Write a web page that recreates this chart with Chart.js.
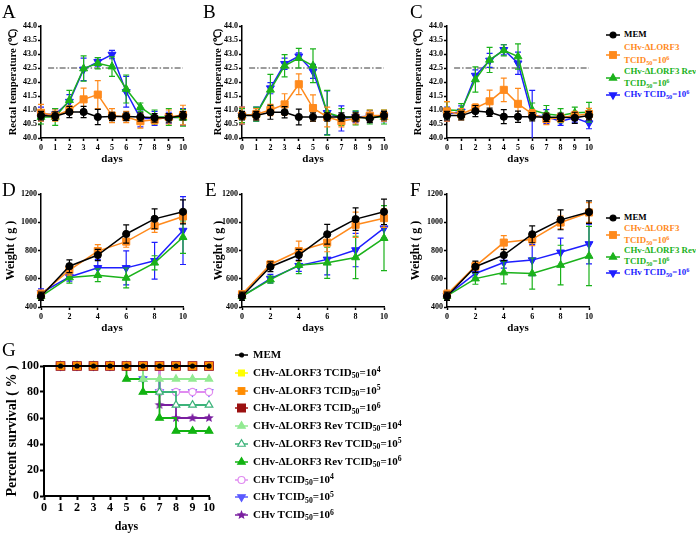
<!DOCTYPE html>
<html><head><meta charset="utf-8">
<script src="https://cdn.jsdelivr.net/npm/chart.js@4.4.0/dist/chart.umd.min.js"></script>
<style>
html,body{margin:0;padding:0;background:#fff;overflow:hidden;}
#wrap{position:relative;width:696px;height:533px;font-family:"Liberation Serif","Times New Roman",serif;}
#wrap canvas{position:absolute;}
.letter{position:absolute;font-size:19px;line-height:1;color:#000;}
.lt{position:absolute;font-weight:bold;white-space:nowrap;line-height:1;}
.sb{font-size:0.7em;position:relative;top:0.3em;}
.sp{font-size:0.7em;position:relative;top:-0.45em;}
</style></head><body><div id="wrap"></div>
<script>
// ---------- data ----------
const tempDays = [0,1,2,3,4,5,6,7,8,9,10];
const weightDays = [0,2,4,6,8,10];
const survDays = [0,1,2,3,4,5,6,7,8,9,10];

const A_mem = [40.80,40.78,40.93,40.93,40.75,40.77,40.77,40.75,40.72,40.72,40.80];
const A_memErr = [0.15,0.15,0.2,0.2,0.27,0.15,0.15,0.15,0.15,0.15,0.15];
const A_del = [40.90,40.80,41.00,41.38,41.55,40.80,40.75,40.60,40.65,40.75,40.82];
const A_delErr = [0.3,0.2,0.15,0.4,0.5,0.25,0.2,0.25,0.15,0.25,0.35];
const A_rev = [40.75,40.75,41.35,42.48,42.67,42.55,41.75,41.10,40.75,40.75,40.72];
const A_revErr = [0.25,0.3,0.35,0.45,0.2,0.35,0.5,0.15,0.25,0.3,0.3];
const A_chv = [40.85,40.85,41.30,42.45,42.72,42.98,41.65,40.70,40.70,40.72,40.75];
const A_chvErr = [0.25,0.2,0.25,0.4,0.15,0.15,0.55,0.3,0.25,0.2,0.3];

const B_mem = [40.80,40.80,40.92,40.92,40.75,40.75,40.75,40.75,40.75,40.70,40.80];
const B_memErr = [0.15,0.15,0.25,0.2,0.28,0.15,0.15,0.15,0.15,0.15,0.15];
const B_del = [40.80,40.85,41.00,41.20,41.92,41.07,40.75,40.60,40.70,40.80,40.80];
const B_delErr = [0.3,0.2,0.2,0.38,0.37,0.47,0.35,0.2,0.2,0.2,0.2];
const B_rev = [40.80,40.85,41.72,42.58,42.85,42.58,40.90,40.75,40.72,40.75,40.75];
const B_revErr = [0.25,0.25,0.55,0.4,0.35,0.6,0.8,0.3,0.25,0.25,0.25];
const B_chv = [40.80,40.85,41.78,42.65,42.92,42.38,40.90,40.70,40.75,40.78,40.78];
const B_chvErr = [0.3,0.25,0.2,0.2,0.12,0.25,0.78,0.45,0.2,0.2,0.2];

const C_mem = [40.80,40.80,40.96,40.92,40.76,40.76,40.76,40.74,40.74,40.72,40.80];
const C_memErr = [0.15,0.15,0.2,0.15,0.25,0.2,0.15,0.15,0.15,0.2,0.15];
const C_del = [40.95,40.85,41.07,41.31,41.72,41.22,40.86,40.68,40.72,40.80,40.86];
const C_delErr = [0.35,0.2,0.15,0.4,0.42,0.55,0.15,0.2,0.15,0.15,0.2];
const C_rev = [41.00,40.98,42.09,42.79,43.13,42.91,41.00,40.86,40.80,40.90,40.92];
const C_revErr = [0.3,0.25,0.45,0.45,0.2,0.45,0.25,0.3,0.25,0.2,0.35];
const C_chv = [40.85,40.95,42.23,42.77,43.15,42.67,40.80,40.76,40.60,40.72,40.53];
const C_chvErr = [0.25,0.2,0.2,0.25,0.18,0.4,0.9,0.25,0.15,0.15,0.2];

const feverLine = [42.5, 42.5];
const feverDays = [0.5, 10];

const D_mem = [476,689,768,917,1024,1074];
const D_memErr = [30,45,40,65,70,85];
const D_del = [490,661,796,863,974,1041];
const D_delErr = [30,35,45,40,45,45];
const D_rev = [476,609,625,606,713,894];
const D_revErr = [25,40,45,70,50,115];
const D_chv = [499,613,677,677,727,941];
const D_chvErr = [30,30,60,120,130,240];

const E_mem = [476,685,768,915,1022,1074];
const E_memErr = [30,35,40,70,80,90];
const E_del = [490,701,796,856,982,1029];
const E_delErr = [25,25,70,65,90,65];
const E_rev = [476,594,696,713,751,887];
const E_revErr = [25,25,60,110,150,230];
const E_chv = [476,601,692,737,803,958];
const E_chvErr = [30,30,40,110,118,70];

const F_mem = [476,685,768,915,1017,1072];
const F_memErr = [30,40,40,60,70,80];
const F_del = [490,689,856,879,998,1069];
const F_delErr = [30,30,50,45,45,70];
const F_rev = [478,601,644,637,697,761];
const F_revErr = [25,40,80,110,140,210];
const F_chv = [480,637,715,732,787,846];
const F_chvErr = [30,30,40,110,100,140];

const S_mem = [100,100,100,100,100,100,100,100,100,100,100];
const S_del4 = [100,100,100,100,100,100,100,100,100,100,100];
const S_del5 = [100,100,100,100,100,100,100,100,100,100,100];
const S_del6 = [100,100,100,100,100,100,100,100,100,100,100];
const S_rev4 = [100,100,100,100,100,100,90,90,90,90,90];
const S_rev5 = [100,100,100,100,100,100,90,80,70,70,70];
const S_rev6 = [100,100,100,100,100,90,80,60,50,50,50];
const S_chv4 = [100,100,100,100,100,100,100,80,80,80,80];
const S_chv5 = [100,100,100,100,100,100,90,80,80,80,80];
const S_chv6 = [100,100,100,100,100,100,100,70,60,60,60];

const tempTicks = [40.0,40.5,41.0,41.5,42.0,42.5,43.0,43.5,44.0];
const weightTicks = [400,600,800,1000,1200];
const survTicks = [0,20,40,60,80,100];

const groupLabels = ['MEM','CHv-ΔLORF3|TCID_{50}=10^{6}','CHv-ΔLORF3 Rev|TCID_{50}=10^{6}','CHv TCID_{50}=10^{6}'];
const survLabels = ['MEM','CHv-ΔLORF3 TCID_{50}=10^{4}','CHv-ΔLORF3 TCID_{50}=10^{5}','CHv-ΔLORF3 TCID_{50}=10^{6}',
  'CHv-ΔLORF3 Rev TCID_{50}=10^{4}','CHv-ΔLORF3 Rev TCID_{50}=10^{5}','CHv-ΔLORF3 Rev TCID_{50}=10^{6}',
  'CHv TCID_{50}=10^{4}','CHv TCID_{50}=10^{5}','CHv TCID_{50}=10^{6}'];
const tempTitle = 'Rectal temperature (℃)';
const weightTitle = 'Weight ( g )';
const survTitle = 'Percent survival ( % )';
const xTitle = 'days';

// ---------- styles ----------
const FONT = '"Liberation Serif","Times New Roman",serif';
Chart.defaults.font.family = FONT;
Chart.defaults.color = '#000';
const wrap = document.getElementById('wrap');

const gStyles = [
  {c:'#000000', ps:'circle', r:3.6, rot:0, svg:'circle', sr:3},
  {c:'#FF8A1C', ps:'rect', r:5, rot:0, svg:'rect', sr:3.4},
  {c:'#1BB21B', ps:'triangle', r:4.6, rot:0, svg:'tri', sr:4.2},
  {c:'#1E1EFF', ps:'triangle', r:4.6, rot:180, svg:'tridown', sr:4.2}
];

function starCanvas(color, R){
  const c = document.createElement('canvas'); const s = Math.ceil(R*2+2);
  c.width = s; c.height = s;
  const g = c.getContext('2d'); g.fillStyle = color; g.beginPath();
  for(let i=0;i<10;i++){const rr = i%2 ? R*0.45 : R; const a = -Math.PI/2 + i*Math.PI/5;
    const px = s/2 + rr*Math.cos(a), py = s/2 + rr*Math.sin(a); i ? g.lineTo(px,py) : g.moveTo(px,py);}
  g.closePath(); g.fill(); return c;
}

const sStyles = [
  {c:'#000000', fill:'#000000', ps:'circle', r:2, rot:0, svg:'circle', sr:2},
  {c:'#FFFF00', fill:'#FFFF00', ps:'rect', r:2, rot:0, svg:'rect', sr:3},
  {c:'#FF8C00', fill:'#FF8C00', ps:'rect', r:4.8, rot:0, svg:'rect', sr:3.4},
  {c:'#9B1010', fill:'#9B1010', ps:'rect', r:6, rot:0, svg:'rect', sr:4},
  {c:'#92EA92', fill:'#92EA92', ps:'triangle', r:4.2, rot:0, svg:'tri', sr:4.4},
  {c:'#3CB37A', fill:'#FFFFFF', ps:'triangle', r:4.4, rot:0, svg:'tri', sr:4.4},
  {c:'#12B312', fill:'#12B312', ps:'triangle', r:4.4, rot:0, svg:'tri', sr:4.4},
  {c:'#E08CF0', fill:'#FFFFFF', ps:'circle', r:3.6, rot:0, svg:'circle', sr:3.5},
  {c:'#5A5AFF', fill:'#5A5AFF', ps:'triangle', r:4.4, rot:180, svg:'tridown', sr:4.4},
  {c:'#7A1FA0', fill:'#7A1FA0', ps:starCanvas('#7A1FA0',5), r:4.5, rot:0, svg:'star', sr:5}
];

// ---------- error bar plugin ----------
const errorBars = {
  id:'errorBars',
  beforeDatasetDraw(chart, args){
    const ds = chart.data.datasets[args.index];
    if(!ds.errors) return;
    const ctx = chart.ctx, ys = chart.scales.y, a = chart.chartArea;
    ctx.save();
    ctx.beginPath(); ctx.rect(a.left-10, a.top-10, a.right-a.left+20, a.bottom-a.top+10); ctx.clip();
    ctx.strokeStyle = ds.borderColor; ctx.lineWidth = 1.2;
    args.meta.data.forEach((pt,i)=>{
      const v = ds.data[i].y, e = ds.errors[i];
      if(e==null) return;
      const y1 = ys.getPixelForValue(v+e), y2 = ys.getPixelForValue(v-e), x = pt.x;
      ctx.beginPath();
      ctx.moveTo(x,y1); ctx.lineTo(x,y2);
      ctx.moveTo(x-3,y1); ctx.lineTo(x+3,y1);
      ctx.moveTo(x-3,y2); ctx.lineTo(x+3,y2);
      ctx.stroke();
    });
    ctx.restore();
  }
};

function pts(xs, ys){ return xs.map((x,i)=>({x:x, y:ys[i]})); }

function makeChart(cfg){
  const padL=2, padT=9, padR=10, padB=0;
  const c = document.createElement('canvas');
  const w = padL + cfg.yW + (cfg.r - cfg.l) + padR;
  const h = padT + (cfg.b - cfg.t) + cfg.xH + padB;
  c.width = w; c.height = h;
  c.style.left = (cfg.l - cfg.yW - padL) + 'px'; c.style.top = (cfg.t - padT) + 'px';
  c.style.width = w + 'px'; c.style.height = h + 'px';
  wrap.appendChild(c);
  const axW = cfg.axW || 1.5, tl = cfg.tl || 3;
  new Chart(c, {
    type:'line',
    data:{datasets:cfg.datasets},
    options:{
      responsive:false, animation:false, devicePixelRatio:1,
      layout:{padding:{left:padL, top:padT, right:padR, bottom:padB}},
      plugins:{legend:{display:false}, tooltip:{enabled:false}},
      scales:{
        x:{type:'linear', min:cfg.xmin, max:cfg.xmax,
          afterBuildTicks(s){ s.ticks = cfg.xticks.map(v=>({value:v})); },
          ticks:{autoSkip:false, maxRotation:0, padding:cfg.xpad, font:{size:cfg.tickSize, weight:'bold'}, color:'#000'},
          grid:{drawOnChartArea:false, drawTicks:true, tickLength:tl, tickWidth:axW, tickColor:'#000'},
          border:{display:true, color:'#000', width:axW},
          title:{display:true, text:xTitle, font:{size:cfg.xTitleSize, weight:'bold'}, color:'#000', padding:0},
          afterFit(s){ s.height = cfg.xH; }
        },
        y:{type:'linear', min:cfg.ymin, max:cfg.ymax,
          afterBuildTicks(s){ s.ticks = cfg.yticks.map(v=>({value:v})); },
          ticks:{padding:cfg.ypad, font:{size:cfg.tickSize, weight:'bold'}, color:'#000',
            callback:(v)=> cfg.dec ? Number(v).toFixed(cfg.dec) : String(v)},
          grid:{drawOnChartArea:false, drawTicks:true, tickLength:tl, tickWidth:axW, tickColor:'#000'},
          border:{display:true, color:'#000', width:axW},
          title:{display:true, text:cfg.yTitle, font:{size:cfg.yTitleSize, weight:'bold'}, color:'#000', padding:0},
          afterFit(s){ s.width = cfg.yW; }
        }
      }
    },
    plugins:[errorBars]
  });
}

function groupDatasets(xs, vals, errs, withRef){
  const ds = vals.map((v,i)=>({
    data:pts(xs, v), errors:errs[i],
    borderColor:gStyles[i].c, backgroundColor:gStyles[i].c, borderWidth:1.5,
    pointStyle:gStyles[i].ps, pointRadius:gStyles[i].r, pointRotation:gStyles[i].rot,
    pointBackgroundColor:gStyles[i].c, pointBorderColor:gStyles[i].c, pointBorderWidth:1,
    tension:0, clip:false
  }));
  if(withRef){
    ds.push({data:pts(feverDays, feverLine), borderColor:'#3a3a3a', borderWidth:1,
      borderDash:[6,2,1.5,2], pointRadius:0, clip:false});
  }
  return ds;
}

// ---------- temperature panels ----------
const tempPanels = [
  {l:41, r:183, vals:[A_mem,A_del,A_rev,A_chv], errs:[A_memErr,A_delErr,A_revErr,A_chvErr], yW:34},
  {l:242, r:384, vals:[B_mem,B_del,B_rev,B_chv], errs:[B_memErr,B_delErr,B_revErr,B_chvErr], yW:30},
  {l:447, r:589, vals:[C_mem,C_del,C_rev,C_chv], errs:[C_memErr,C_delErr,C_revErr,C_chvErr], yW:35}
];
tempPanels.forEach(p=>{
  makeChart({l:p.l, r:p.r, t:26, b:138, yW:p.yW, xH:28,
    xmin:0, xmax:10, xticks:tempDays, ymin:40, ymax:44, yticks:tempTicks, dec:1,
    tickSize:8, xpad:2, ypad:1, xTitleSize:11, yTitleSize:10.5, yTitle:tempTitle,
    datasets:groupDatasets(tempDays, p.vals, p.errs, true)});
});

// ---------- weight panels ----------
const weightPanels = [
  {l:41, r:183, vals:[D_mem,D_del,D_rev,D_chv], errs:[D_memErr,D_delErr,D_revErr,D_chvErr], yW:37},
  {l:242, r:384, vals:[E_mem,E_del,E_rev,E_chv], errs:[E_memErr,E_delErr,E_revErr,E_chvErr], yW:30},
  {l:447, r:589, vals:[F_mem,F_del,F_rev,F_chv], errs:[F_memErr,F_delErr,F_revErr,F_chvErr], yW:38}
];
weightPanels.forEach(p=>{
  makeChart({l:p.l, r:p.r, t:194, b:307, yW:p.yW, xH:28,
    xmin:0, xmax:10, xticks:weightDays, ymin:400, ymax:1200, yticks:weightTicks, dec:0,
    tickSize:8, xpad:2, ypad:1, xTitleSize:11, yTitleSize:12, yTitle:weightTitle,
    datasets:groupDatasets(weightDays, p.vals, p.errs, false)});
});

// ---------- survival panel ----------
const survVals = [S_mem,S_del4,S_del5,S_del6,S_rev4,S_rev5,S_rev6,S_chv4,S_chv5,S_chv6];
const survDs = survVals.map((v,i)=>{
  const s = sStyles[i];
  return {data:pts(survDays, v), borderColor:s.c, backgroundColor:s.fill, borderWidth:1.8,
    stepped:'before', pointStyle:s.ps, pointRotation:s.rot,
    pointRadius:(ctx)=> ctx.dataIndex===0 ? 0 : s.r,
    pointBackgroundColor:s.fill, pointBorderColor:s.c, pointBorderWidth:1.2, clip:false};
});
makeChart({l:44, r:209, t:366, b:496, yW:40, xH:38, axW:2, tl:4,
  xmin:0, xmax:10, xticks:survDays, ymin:0, ymax:100, yticks:survTicks, dec:0,
  tickSize:12, xpad:1, ypad:1, xTitleSize:12, yTitleSize:14, yTitle:survTitle,
  datasets:survDs});

// ---------- letters ----------
[['A',2,2],['B',203,2],['C',410,2],['D',2,180],['E',205,180],['F',410,180],['G',2,340]].forEach(([t,x,y])=>{
  const d = document.createElement('div'); d.className='letter'; d.textContent=t;
  d.style.left=x+'px'; d.style.top=y+'px'; wrap.appendChild(d);
});

// ---------- legends ----------
function fmt(s){ return s.replace(/_\{(.*?)\}/g,'<span class="sb">$1</span>').replace(/\^\{(.*?)\}/g,'<span class="sp">$1</span>'); }
function shapeSVG(shape,color,fill,cx,cy,r){
  const f=(n)=>n.toFixed(2);
  switch(shape){
    case 'circle': return `<circle cx="${cx}" cy="${cy}" r="${r}" fill="${fill}" stroke="${color}" stroke-width="1.2"/>`;
    case 'rect': return `<rect x="${cx-r}" y="${cy-r}" width="${2*r}" height="${2*r}" fill="${fill}" stroke="${color}" stroke-width="1"/>`;
    case 'tri': return `<polygon points="${f(cx)},${f(cy-r)} ${f(cx+r*0.87)},${f(cy+r*0.5)} ${f(cx-r*0.87)},${f(cy+r*0.5)}" fill="${fill}" stroke="${color}" stroke-width="1.1"/>`;
    case 'tridown': return `<polygon points="${f(cx)},${f(cy+r)} ${f(cx+r*0.87)},${f(cy-r*0.5)} ${f(cx-r*0.87)},${f(cy-r*0.5)}" fill="${fill}" stroke="${color}" stroke-width="1.1"/>`;
    case 'star': { let p=[]; for(let i=0;i<10;i++){const rr=i%2?r*0.45:r; const a=-Math.PI/2+i*Math.PI/5; p.push(f(cx+rr*Math.cos(a))+','+f(cy+rr*Math.sin(a)));}
      return `<polygon points="${p.join(' ')}" fill="${fill}"/>`; }
  }
}
function marker(cx, cy, w, shape, color, fill, r){
  const h=14;
  const el = document.createElement('div');
  el.innerHTML = `<svg width="${w}" height="${h}" style="position:absolute;left:${cx-w/2}px;top:${cy-h/2}px;overflow:visible"><line x1="0" y1="${h/2}" x2="${w}" y2="${h/2}" stroke="${color}" stroke-width="1.5"/>${shapeSVG(shape,color,fill,w/2,h/2,r)}</svg>`;
  wrap.appendChild(el.firstChild);
}
function text(x, cy, html, size, color){
  const d = document.createElement('div'); d.className='lt'; d.innerHTML=fmt(html);
  d.style.left=x+'px'; d.style.top=(cy - size*0.55)+'px'; d.style.fontSize=size+'px'; d.style.color=color;
  wrap.appendChild(d);
}
function groupLegend(rows){
  groupLabels.forEach((lab,i)=>{
    const lines = lab.split('|'); const ys = rows[i];
    const my = ys.length>1 ? (ys[0]+ys[1])/2 : ys[0];
    marker(613, my, 14, gStyles[i].svg, gStyles[i].c, gStyles[i].c, gStyles[i].sr);
    lines.forEach((ln,k)=> text(624, ys[k], ln, 8.9, gStyles[i].c));
  });
}
groupLegend([[35],[48,61],[72,84],[95]]);
groupLegend([[218],[229,241],[251,262],[273]]);

survLabels.forEach((lab,i)=>{
  const y = 355 + i*17.8; const s = sStyles[i];
  marker(241, y, 13, s.svg, s.c, s.fill, s.sr);
  text(253, y, lab, 11, '#000');
});
</script></body></html>
